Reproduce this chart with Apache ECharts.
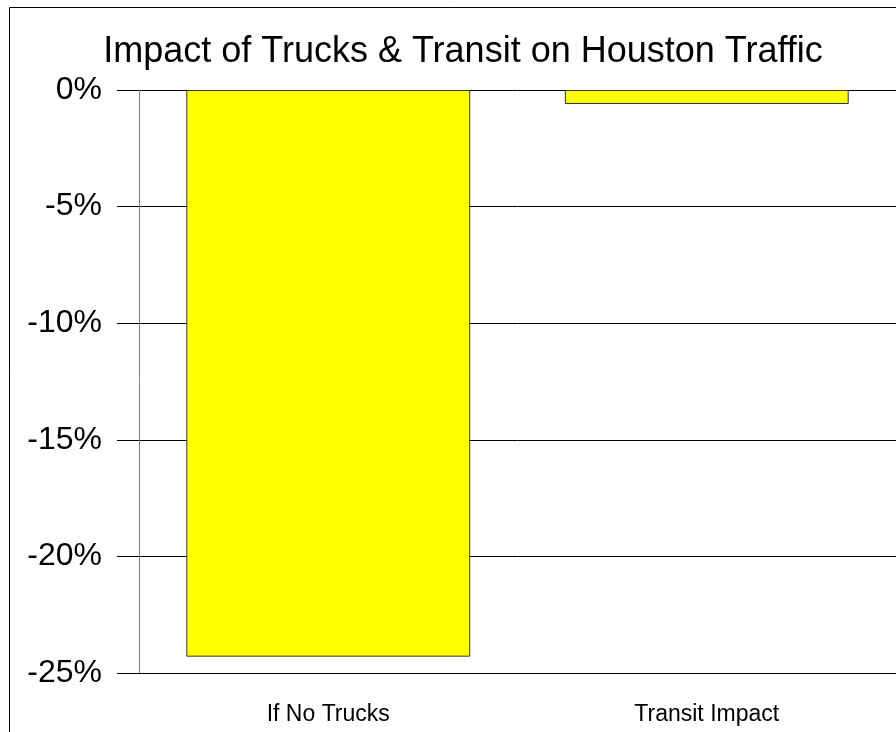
<!DOCTYPE html>
<html>
<head>
<meta charset="utf-8">
<script src="https://cdn.jsdelivr.net/npm/echarts@6/dist/echarts.min.js"></script>
<style>
  html, body { margin: 0; padding: 0; background: #fff; }
  #chart { width: 896px; height: 732px; }
</style>
</head>
<body>
<div id="chart"></div>
<script>
// categories and values
var categories = ['If No Trucks', 'Transit Impact'];
var impact = [-24.3, -0.6];
var yTicks = { min: -25, max: 0, step: 5 };

var chart = echarts.init(document.getElementById('chart'));

var opt = {
    animation: false,
    title: {
        text: 'Impact of Trucks & Transit on Houston Traffic',
        left: 458,
        textAlign: 'center',
        top: 29,
        textStyle: {
            fontFamily: 'Liberation Sans',
            fontSize: 36,
            fontWeight: 'normal',
            color: '#000'
        }
    },
    grid: {
        left: 139,
        top: 90,
        width: 761,
        height: 583
    },
    graphic: [{
        type: 'rect',
        shape: { x: 9.5, y: 7.5, width: 1000, height: 1000 },
        style: { fill: 'none', stroke: '#000', lineWidth: 1 }
    }],
    xAxis: {
        type: 'category',
        data: categories,
        axisLine: { onZero: false, lineStyle: { color: '#000', width: 1 } },
        axisTick: { alignWithLabel: true, length: 15, lineStyle: { color: '#000' } },
        axisLabel: {
            margin: 30,
            fontFamily: 'Liberation Sans',
            fontSize: 23,
            color: '#000'
        }
    },
    yAxis: {
        type: 'value',
        min: yTicks.min,
        max: yTicks.max,
        interval: yTicks.step,
        axisLine: { show: true, lineStyle: { color: '#808080', width: 1 } },
        axisTick: { show: true, inside: false, length: 22, lineStyle: { color: '#000' } },
        splitLine: { show: true, lineStyle: { color: '#000', width: 1 } },
        axisLabel: {
            margin: 37,
            formatter: '{value}%',
            fontFamily: 'Liberation Sans',
            fontSize: 32,
            color: '#000'
        }
    },
    series: [{
        type: 'bar',
        data: impact,
        barCategoryGap: '25%',
        itemStyle: {
            color: '#ffff00',
            borderColor: '#333',
            borderWidth: 1
        }
    }]
};

chart.setOption(opt);
</script>
</body>
</html>
